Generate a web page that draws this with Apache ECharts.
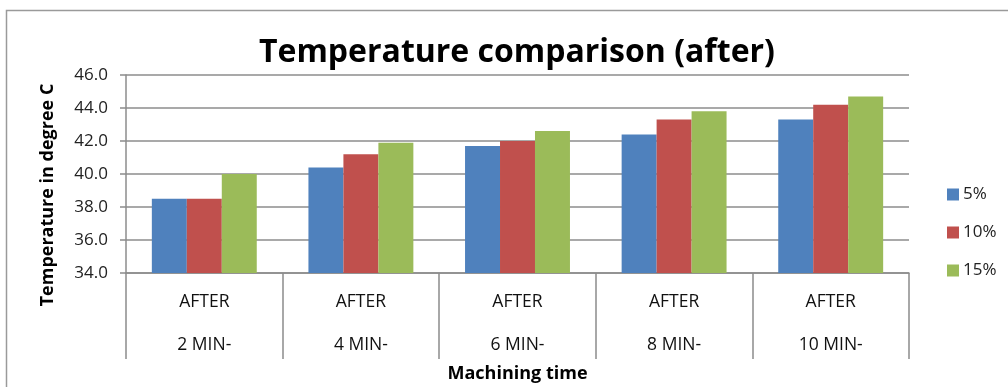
<!DOCTYPE html>
<html>
<head>
<meta charset="utf-8">
<script src="https://cdn.jsdelivr.net/npm/echarts@6/dist/echarts.min.js"></script>
<style>
  html, body { margin: 0; padding: 0; background: #fff; }
  #chart { width: 1008px; height: 387px; }
</style>
</head>
<body>
<div id="chart"></div>
<script>
// Machining time groups and measured temperatures (degree C)
const categories = ['AFTER\n2 MIN-', 'AFTER\n4 MIN-', 'AFTER\n6 MIN-', 'AFTER\n8 MIN-', 'AFTER\n10 MIN-'];
const seriesNames = ['5%', '10%', '15%'];
const temp5 = [38.5, 40.4, 41.7, 42.4, 43.3];
const temp10 = [38.5, 41.2, 42.0, 43.3, 44.2];
const temp15 = [40.0, 41.9, 42.6, 43.8, 44.7];
const yMin = 34, yMax = 46, yStep = 2;

const FONT = '"Open Sans", "Liberation Sans", sans-serif';
const colors = ['#4F81BD', '#C0504D', '#9BBB59'];
const values = [temp5, temp10, temp15];

const chart = echarts.init(document.getElementById('chart'), null, { renderer: 'canvas' });

chart.setOption({
  animation: false,
  backgroundColor: '#ffffff',
  color: colors,
  title: {
    text: 'Temperature comparison (after)',
    left: 254,
    top: 32,
    textStyle: { fontFamily: FONT, fontWeight: 'bold', fontSize: 32, color: '#000' }
  },
  grid: { left: 126, right: 99, top: 75, bottom: 114, containLabel: false, outerBoundsMode: 'none' },
  legend: {
    orient: 'vertical',
    left: 942,
    top: 181,
    itemWidth: 12,
    itemHeight: 12,
    itemGap: 21,
    icon: 'rect',
    data: seriesNames,
    textStyle: { fontFamily: FONT, fontSize: 17, color: '#222', padding: [0, 0, 0, -1] }
  },
  xAxis: {
    type: 'category',
    data: categories,
    name: 'Machining time',
    nameLocation: 'middle',
    nameGap: 92,
    nameMoveOverlap: false,
    nameTextStyle: { fontFamily: FONT, fontWeight: 'bold', fontSize: 18, color: '#000' },
    axisLine: { lineStyle: { color: '#8c8c8c', width: 1.5 } },
    axisTick: { show: true, alignWithLabel: false, length: 86, lineStyle: { color: '#8c8c8c', width: 1.5 } },
    axisLabel: {
      fontFamily: FONT,
      fontSize: 17.5,
      color: '#111',
      lineHeight: 43,
      margin: 8
    }
  },
  yAxis: {
    type: 'value',
    min: yMin,
    max: yMax,
    interval: yStep,
    axisLine: { show: true, lineStyle: { color: '#8c8c8c', width: 1.5 } },
    axisTick: { show: true, length: 6, lineStyle: { color: '#8c8c8c', width: 1.5 } },
    splitLine: { lineStyle: { color: '#8c8c8c', width: 1.5 } },
    axisLabel: {
      fontFamily: FONT,
      fontSize: 17,
      color: '#222',
      margin: 18,
      formatter: v => v.toFixed(1)
    }
  },
  graphic: [
    {
      type: 'rect',
      left: 4, top: 8,
      shape: { width: 1020, height: 400 },
      style: { fill: 'none', stroke: '#9a9a9a', lineWidth: 1.5 },
      silent: true,
      z: -1
    },
    {
      type: 'text',
      x: 48, y: 195,
      rotation: Math.PI / 2,
      style: {
        text: 'Temperature in degree C',
        fontFamily: FONT,
        fontWeight: 'bold',
        fontSize: 18,
        fill: '#000',
        align: 'center',
        verticalAlign: 'middle'
      }
    }
  ],
  series: seriesNames.map((name, i) => ({
    name,
    type: 'bar',
    data: values[i],
    barGap: '0%',
    barCategoryGap: '33%',
    itemStyle: { color: colors[i] }
  }))
});
</script>
</body>
</html>
